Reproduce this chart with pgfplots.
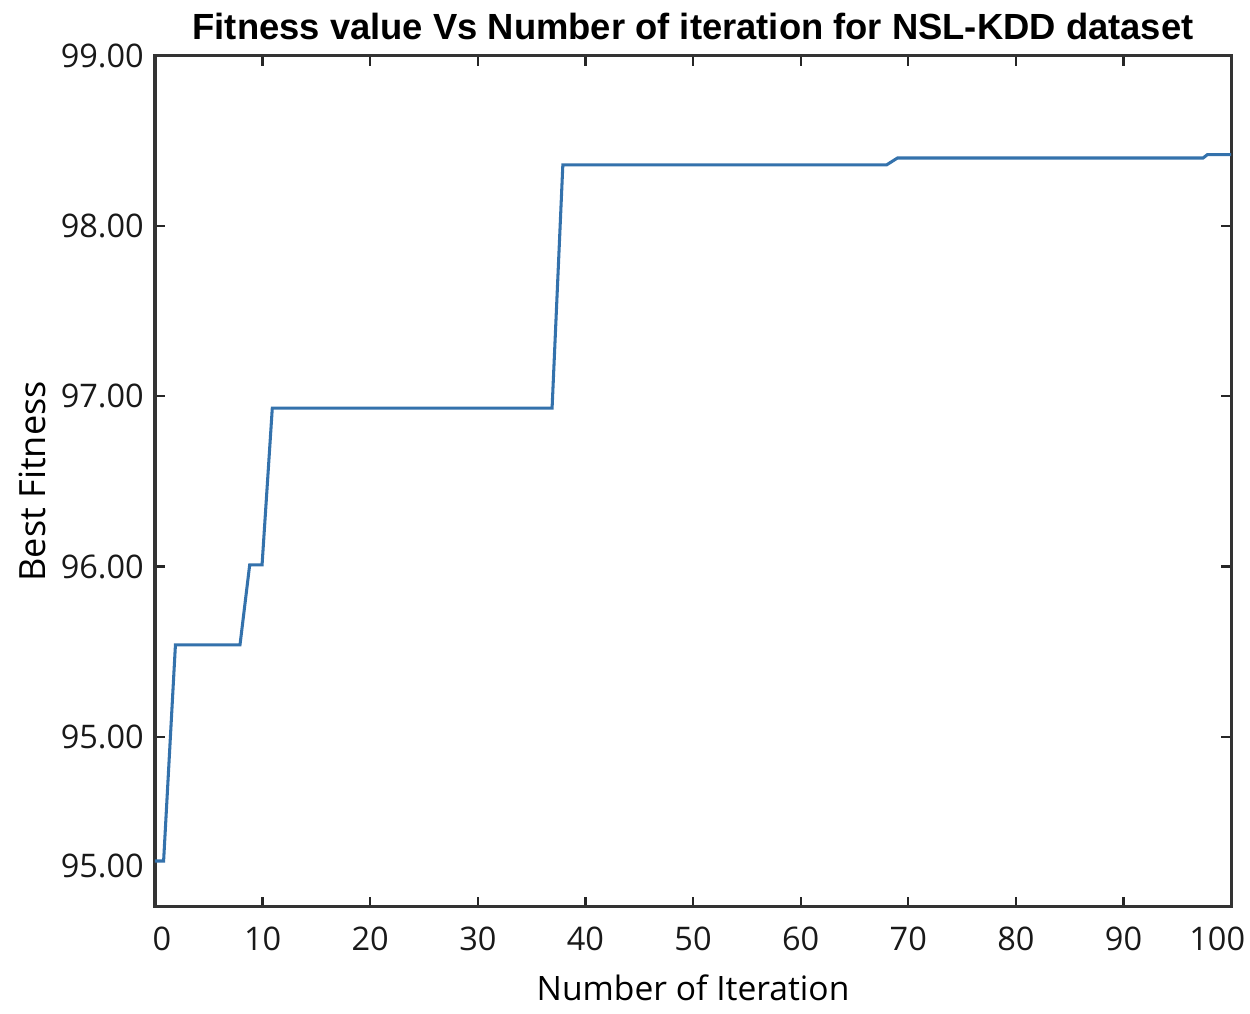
\documentclass[border=0pt]{standalone}
\usepackage{fontspec}
\setmainfont{Open Sans}
\newfontfamily\titlefont{Liberation Sans}
\usepackage{pgfplots}
\pgfplotsset{compat=1.18}
\definecolor{linecol}{RGB}{52,114,172}
\begin{document}
\begin{tikzpicture}
\begin{axis}[
  at={(0pt,0pt)}, anchor=south west,
  scale only axis, width=387.4pt, height=306.4pt,
  xmin=0, xmax=100, ymin=94.0, ymax=99.0,
  xtick={0,10,...,100},
  xticklabels={\hspace*{5pt}0,10,20,30,40,50,60,70,80,90,100\hspace*{10pt}},
  ytick={95,96,97,98,99},
  yticklabels={95.00,96.00,97.00,98.00,99.00},
  extra y ticks={94.24},
  extra y tick labels={95.00},
  extra y tick style={major tick length=0pt},
  tick align=inside, major tick length=3.6pt,
  tick style={line width=0.8pt, black!85},
  axis line style={line width=1.1pt, black!80},
  /pgf/number format/assume math mode=true,
  tick label style={font=\fontsize{11.7}{13}\selectfont, text=black!90},
  xticklabel style={yshift=-3.5pt},
  yticklabel style={xshift=-0.5pt},
  every axis title shift=0pt,
  title={\titlefont\bfseries\fontsize{13.1}{15}\selectfont Fitness value Vs Number of iteration for NSL-KDD dataset},
  title style={at={(0.5,1)}, anchor=base, yshift=5.8pt},
  xlabel={\fontsize{12.1}{14}\selectfont Number of Iteration},
  ylabel={\fontsize{13}{15}\selectfont Best Fitness},
  xlabel style={at={(0.5,0)}, anchor=base, yshift=-33.5pt},
  ylabel style={at={(0,0.5)}, anchor=base, yshift=39.5pt},
]
\addplot[linecol, line width=1.1pt] coordinates {
(0,94.27) (0.8,94.27) (1.9,95.54) (7.9,95.54) (8.8,96.01) (9.95,96.01)
(10.9,96.93) (36.9,96.93) (37.9,98.36) (68.0,98.36) (69.0,98.40)
(97.4,98.40) (97.8,98.42) (100,98.42)
};
\end{axis}
\pgfresetboundingbox
\path (-55.8pt,-38.5pt) rectangle ++(450pt,365pt);
\end{tikzpicture}
\end{document}
